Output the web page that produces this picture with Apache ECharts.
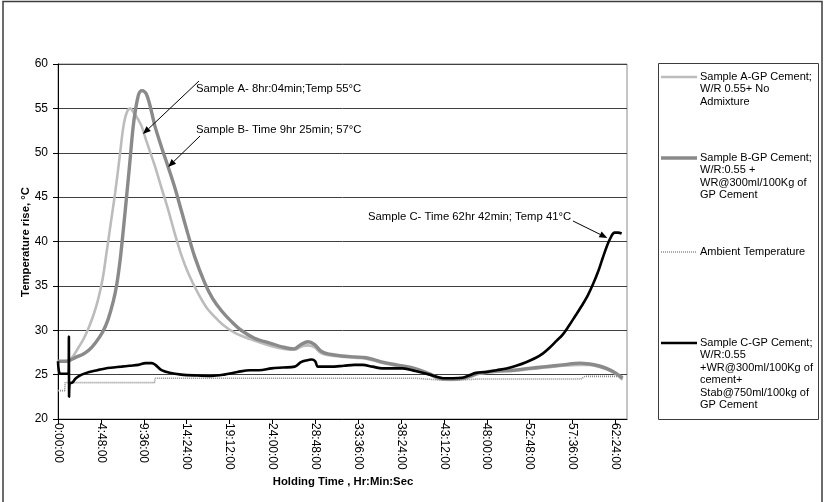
<!DOCTYPE html>
<html>
<head>
<meta charset="utf-8">
<script src="https://cdn.jsdelivr.net/npm/echarts@6/dist/echarts.min.js"></script>
<style>
  html, body { margin: 0; padding: 0; background: #fff; }
  #chart { width: 825px; height: 502px; }
</style>
</head>
<body>
<div id="chart"></div>
<script>
const FONT = '"Liberation Sans", Arial, sans-serif';

// Holding-time tick labels (hr:min:sec); tick positions are parsed from them
const xTickLabels = ['0:00:00', '4:48:00', '9:36:00', '14:24:00', '19:12:00', '24:00:00',
  '28:48:00', '33:36:00', '38:24:00', '43:12:00', '48:00:00', '52:48:00', '57:36:00', '62:24:00'];
const xMaxHours = 63.7;
const yMin = 20, yMax = 60, yStep = 5;

const seriesNames = [
  'Sample A-GP Cement;\nW/R 0.55+ No\nAdmixture',
  'Sample B-GP Cement;\nW/R:0.55 +\nWR@300ml/100Kg of\nGP Cement',
  'Ambient Temperature',
  'Sample C-GP Cement;\nW/R:0.55\n+WR@300ml/100Kg of\ncement+\nStab@750ml/100kg of\nGP Cement'
];

// [holding time in hours, temperature in °C]
const sampleA = [
  [0, 26.5], [0.6, 26.5], [1.2, 26.6], [1.7, 27.1], [2.2, 27.9], [2.8, 28.9], [3.4, 30.2],
  [4.0, 31.8], [4.5, 33.5], [5.0, 35.8], [5.4, 38.5], [5.9, 42.0], [6.4, 45.5], [6.9, 49.5],
  [7.3, 52.8], [7.65, 54.4], [8.07, 55.0], [8.5, 54.5], [9.0, 53.7], [9.36, 53.0], [9.9, 51.3],
  [10.85, 48.5], [11.6, 46.0], [12.33, 43.6], [13.1, 40.8], [13.8, 38.5], [14.6, 36.4],
  [15.66, 34.2], [16.6, 32.6], [17.56, 31.5], [18.6, 30.5], [19.8, 29.7], [21.5, 29.0],
  [23.9, 28.2], [25.3, 27.9], [26.5, 27.8], [27.3, 28.2], [28.0, 28.3], [28.7, 28.1],
  [29.5, 27.4], [31.0, 27.1], [33.2, 26.9], [34.5, 26.8], [36.0, 26.4], [37.9, 26.0],
  [39.5, 25.7], [40.5, 25.4], [41.6, 25.0], [42.7, 24.5], [44.0, 24.4], [45.3, 24.5],
  [46.3, 24.8], [47.2, 25.1], [49.0, 25.3], [50.9, 25.4], [52.7, 25.6], [54.6, 25.8],
  [56.5, 26.0], [58.4, 26.1], [59.5, 26.1], [60.5, 25.9], [61.4, 25.6], [62.4, 25.1], [63.2, 24.4]
];
const sampleB = [
  [0, 26.5], [1.0, 26.5], [1.5, 26.7], [2.1, 27.0], [2.8, 27.3], [3.5, 27.8], [4.2, 28.6],
  [5.0, 29.8], [5.6, 31.2], [6.2, 33.3], [6.6, 35.3], [7.0, 38.3], [7.4, 42.2], [7.7, 45.3],
  [8.05, 49.0], [8.4, 52.8], [8.7, 55.0], [9.0, 56.5], [9.2, 56.9], [9.42, 57.0], [9.65, 56.9],
  [9.9, 56.6], [10.2, 55.7], [10.5, 54.5], [10.85, 53.0], [11.6, 50.6], [12.33, 48.4],
  [13.1, 46.0], [13.83, 43.4], [14.5, 41.0], [15.3, 38.3], [16.4, 35.4], [17.3, 33.6],
  [18.3, 32.2], [19.4, 31.0], [20.5, 30.0], [22.0, 29.1], [23.9, 28.5], [25.2, 28.1],
  [26.4, 27.9], [27.2, 28.4], [28.0, 28.7], [28.7, 28.4], [29.5, 27.6], [30.4, 27.3],
  [31.8, 27.1], [33.2, 27.0], [34.5, 26.9], [36.0, 26.5], [37.9, 26.1], [39.5, 25.8],
  [40.5, 25.5], [41.6, 25.1], [42.7, 24.6], [44.0, 24.5], [45.3, 24.6], [46.3, 24.9],
  [47.2, 25.2], [49.0, 25.4], [50.9, 25.5], [52.7, 25.7], [54.6, 25.9], [56.5, 26.1],
  [58.4, 26.3], [59.5, 26.2], [60.5, 26.0], [61.4, 25.7], [62.4, 25.2], [63.2, 24.6]
];
const ambient = [
  [0, 23.2], [0.75, 23.2], [0.8, 24.1], [5.0, 24.1], [10.8, 24.1], [10.9, 24.6], [20, 24.6],
  [30, 24.6], [40, 24.6], [42.5, 24.4], [45, 24.4], [47, 24.5], [52, 24.5], [58.5, 24.5],
  [59, 24.8], [63.2, 24.8]
];
const sampleC = [
  [0, 26.5], [0.12, 25.3], [0.3, 25.1], [0.8, 25.1], [1.18, 25.1], [1.22, 29.3], [1.24, 22.5],
  [1.3, 24.0], [1.6, 24.1], [2.0, 24.6], [2.65, 25.0], [3.5, 25.3], [4.4, 25.5], [5.3, 25.7],
  [6.2, 25.8], [7.1, 25.9], [8.0, 26.0], [9.0, 26.1], [9.8, 26.3], [10.5, 26.3], [10.9, 26.1],
  [11.6, 25.5], [12.5, 25.2], [13.8, 25.0], [15.5, 24.9], [17.2, 24.85], [18.6, 25.0],
  [20.1, 25.3], [21.5, 25.5], [22.5, 25.5], [23.9, 25.7], [25.2, 25.8], [26.5, 25.9],
  [27.2, 26.4], [27.8, 26.6], [28.4, 26.7], [28.8, 26.5], [29.1, 25.9], [30.5, 25.9],
  [32.0, 26.0], [33.2, 26.1], [34.1, 26.1], [35.2, 25.9], [36.3, 25.7], [38.6, 25.7],
  [40.0, 25.4], [41.6, 25.0], [42.6, 24.7], [43.1, 24.6], [44.2, 24.6], [45.3, 24.65],
  [46.0, 24.9], [46.8, 25.2], [48.0, 25.3], [49.1, 25.5], [50.2, 25.7], [51.3, 26.0],
  [52.4, 26.4], [53.5, 26.9], [54.3, 27.4], [55.0, 28.0], [55.8, 28.8], [56.5, 29.5],
  [57.2, 30.5], [57.9, 31.6], [58.6, 32.7], [59.3, 33.9], [59.9, 35.2], [60.5, 36.7],
  [61.0, 38.2], [61.5, 39.6], [61.9, 40.5], [62.3, 41.0], [62.7, 41.0], [63.1, 40.9]
];

// Callout texts: label anchor (px), arrow tail (px) and the point the arrow touches (data)
const callouts = [
  { text: 'Sample A- 8hr:04min;Temp 55°C', x: 196, y: 89, tail: [199, 81], tip: [9.5, 52.1] },
  { text: 'Sample B- Time 9hr 25min; 57°C', x: 196, y: 130, tail: [200, 136], tip: [12.33, 48.4] },
  { text: 'Sample C- Time 62hr 42min; Temp 41°C', x: 368, y: 217, tail: [573, 221], tip: [61.5, 40.4] }
];

const lineStyles = [
  { color: '#bcbcbc', width: 2.6, type: 'solid' },
  { color: '#8a8a8a', width: 3.4, type: 'solid' },
  { color: '#8c8c8c', width: 1.6, type: [1, 1] },
  { color: '#000000', width: 2.6, type: 'solid' }
];
const legendRows = [77, 158, 252, 343];

function hmsToHours(s) {
  const p = s.split(':').map(Number);
  return p[0] + p[1] / 60 + p[2] / 3600;
}
const xTickHours = xTickLabels.map(hmsToHours);

const chart = echarts.init(document.getElementById('chart'), null, { renderer: 'canvas' });

const seriesData = [sampleA, sampleB, ambient, sampleC];
const smoothing = [0.35, 0.35, false, 0.35];

chart.setOption({
  animation: false,
  backgroundColor: '#ffffff',
  grid: { left: 58, top: 64, right: 198, bottom: 83, show: true, borderColor: '#8c8c8c', borderWidth: 1 },
  xAxis: {
    type: 'value', min: 0, max: xMaxHours,
    axisLine: { show: true, lineStyle: { color: '#000', width: 1 } },
    axisTick: { show: true, customValues: xTickHours, length: 5, lineStyle: { color: '#000' } },
    axisLabel: {
      customValues: xTickHours, rotate: -90, margin: 4,
      color: '#000', fontSize: 12, fontFamily: FONT,
      formatter: v => {
        const i = xTickHours.findIndex(h => Math.abs(h - v) < 1e-6);
        return i >= 0 ? xTickLabels[i] : '';
      }
    },
    splitLine: { show: false }
  },
  yAxis: {
    type: 'value', min: yMin, max: yMax, interval: yStep,
    axisLine: { show: true, lineStyle: { color: '#000', width: 1 } },
    axisTick: { show: true, length: 5, lineStyle: { color: '#000' } },
    axisLabel: { margin: 10, color: '#000', fontSize: 12, fontFamily: FONT },
    splitLine: { show: true, lineStyle: { color: '#404040', width: 1 } }
  },
  series: seriesData.map((d, i) => ({
    type: 'line', name: seriesNames[i], data: d,
    showSymbol: false, smooth: smoothing[i], z: 2 + i,
    lineStyle: { color: lineStyles[i].color, width: lineStyles[i].width, type: lineStyles[i].type }
  }))
});

// Axis titles, legend box, callouts and outer frame
function arrow(tail, tipPx) {
  const dx = tipPx[0] - tail[0], dy = tipPx[1] - tail[1];
  const len = Math.hypot(dx, dy), ux = dx / len, uy = dy / len;
  const hl = 8, hw = 3.2;
  const bx = tipPx[0] - ux * hl, by = tipPx[1] - uy * hl;
  return [
    { type: 'line', shape: { x1: tail[0], y1: tail[1], x2: bx, y2: by }, style: { stroke: '#000', lineWidth: 1 }, z: 20 },
    { type: 'polygon', shape: { points: [tipPx, [bx - uy * hw, by + ux * hw], [bx + uy * hw, by - ux * hw]] }, style: { fill: '#000' }, z: 20 }
  ];
}

const graphics = [
  { type: 'rect', shape: { x: 3, y: 1.5, width: 819, height: 540 }, style: { fill: 'none', stroke: '#3c3c3c', lineWidth: 1.5 }, z: 30, silent: true },
  { type: 'text', x: 26, y: 242, rotation: Math.PI / 2, style: { text: 'Temperature rise, °C', fontSize: 11.3, fontWeight: 'bold', fontFamily: FONT, fill: '#000', align: 'center', verticalAlign: 'middle' }, z: 20 },
  { type: 'text', x: 343, y: 482, style: { text: 'Holding Time , Hr:Min:Sec', fontSize: 11.3, fontWeight: 'bold', fontFamily: FONT, fill: '#000', align: 'center', verticalAlign: 'middle' }, z: 20 },
  { type: 'rect', shape: { x: 658.5, y: 63.5, width: 160, height: 356 }, style: { fill: '#fff', stroke: '#3c3c3c', lineWidth: 1 }, z: 10 }
];

seriesNames.forEach((name, i) => {
  const y = legendRows[i];
  graphics.push({ type: 'line', shape: { x1: 661, y1: y, x2: 697, y2: y },
    style: { stroke: lineStyles[i].color, lineWidth: lineStyles[i].width, lineDash: Array.isArray(lineStyles[i].type) ? lineStyles[i].type : null }, z: 11 });
  graphics.push({ type: 'text', x: 700, y: y - 6.5,
    style: { text: name, fontSize: 11, fontFamily: FONT, fill: '#000', lineHeight: 12.5, align: 'left', verticalAlign: 'top' }, z: 11 });
});

callouts.forEach(c => {
  graphics.push({ type: 'text', x: c.x, y: c.y,
    style: { text: c.text, fontSize: 11.3, fontFamily: FONT, fill: '#000', align: 'left', verticalAlign: 'middle' }, z: 20 });
  const tipPx = chart.convertToPixel({ gridIndex: 0 }, c.tip);
  arrow(c.tail, tipPx).forEach(g => graphics.push(g));
});

chart.setOption({ graphic: graphics });
</script>
</body>
</html>
